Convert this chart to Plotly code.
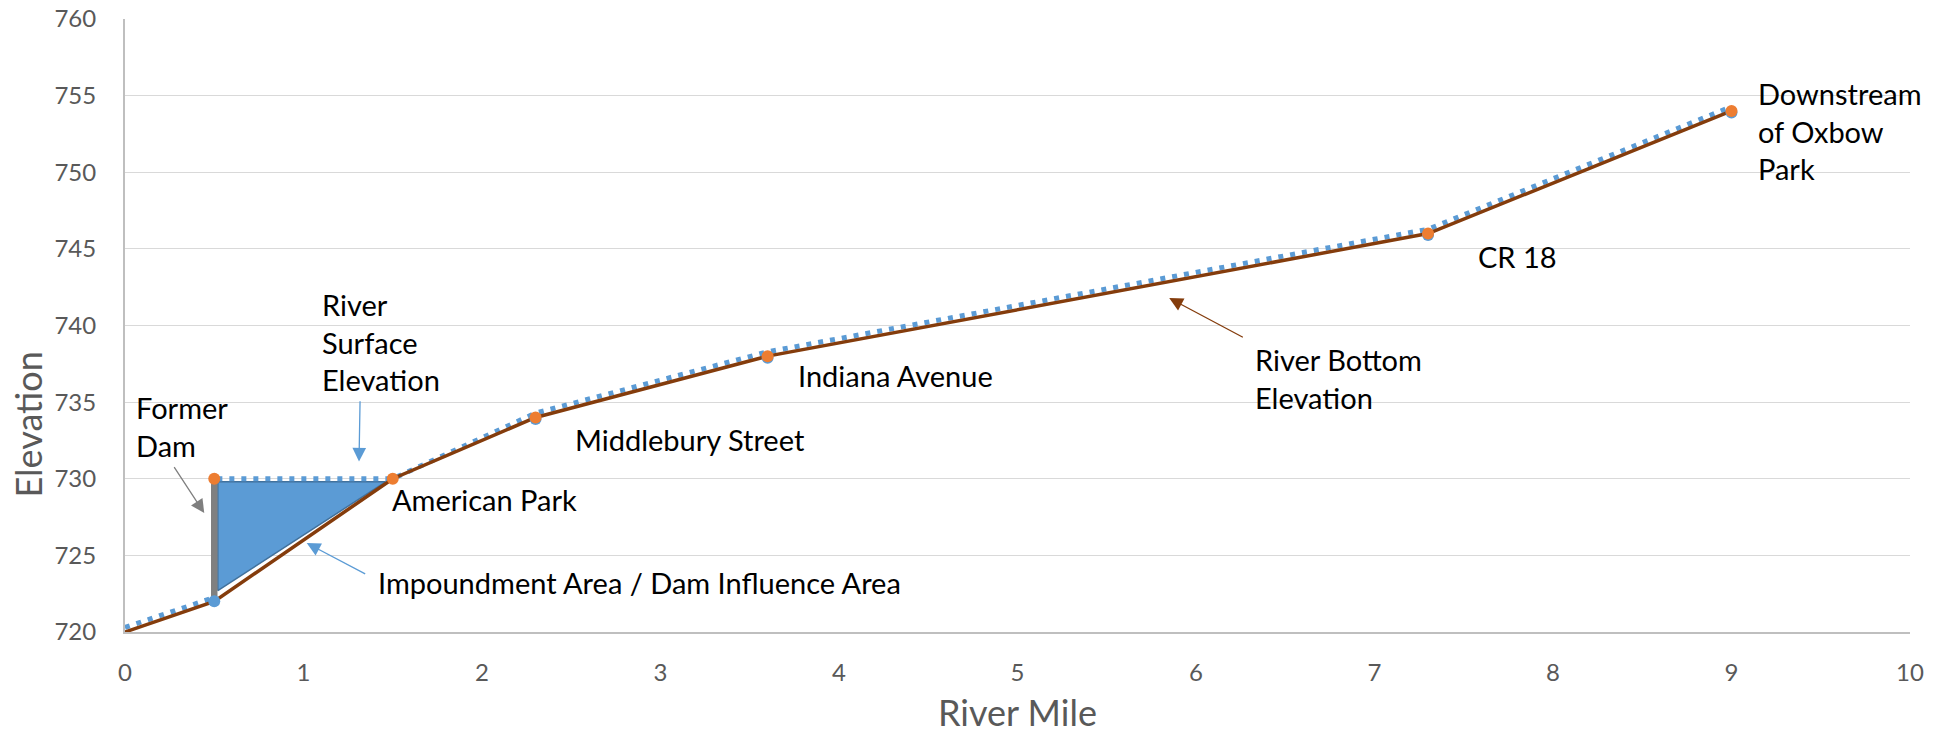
import plotly.graph_objects as go

# ---- data ----
bottom_mile = [0, 0.5, 1.5, 2.3, 3.6, 7.3, 9]
bottom_elev = [720, 722, 730, 734, 738, 746, 754]

surface_mile = [0, 0.5, 0.5, 1.5, 2.3, 3.6, 7.3, 9]
surface_elev = [720.3, 722.25, 730, 730, 734.28, 738.28, 746.28, 754.28]

blue_pt_mile = [0.5, 2.3, 3.6, 7.3, 9]
blue_pt_elev = [722, 733.9, 737.9, 745.9, 753.9]

orange_pt_mile = [0.5, 1.5, 2.3, 3.6, 7.3, 9]
orange_pt_elev = [730, 730, 734, 738, 746, 754]

impound_mile = [0.52, 1.46, 0.52, 0.52]
impound_elev = [729.8, 729.8, 722.7, 729.8]

dam_mile = [0.5, 0.5]
dam_elev = [722, 730]

x_ticks = [0, 1, 2, 3, 4, 5, 6, 7, 8, 9, 10]
y_ticks = [720, 725, 730, 735, 740, 745, 750, 755, 760]

# labels: (text, mile, elevation)
labels = [
    ("Former<br>Dam", 0.05, 733.4),
    ("River<br>Surface<br>Elevation", 1.092, 738.9),
    ("Impoundment Area / Dam Influence Area", 1.406, 723.25),
    ("American Park", 1.485, 728.65),
    ("Middlebury Street", 2.51, 732.56),
    ("Indiana Avenue", 3.76, 736.72),
    ("CR 18", 7.57, 744.53),
    ("Downstream<br>of Oxbow<br>Park", 9.135, 752.66),
    ("River Bottom<br>Elevation", 6.32, 736.54),
]

# arrows: (head mile, head elev, tail mile, tail elev, color)
arrows = [
    (0.444, 727.76, 0.27, 730.85, "#7F7F7F"),
    (1.311, 731.13, 1.317, 735.15, "#5B9BD5"),
    (1.018, 725.8, 1.354, 723.74, "#5B9BD5"),
    (5.85, 741.79, 6.271, 739.18, "#843C0C"),
]

FONT = "Lato"
BLUE = "#5B9BD5"
ORANGE = "#ED7D31"
BROWN = "#843C0C"

fig = go.Figure()

fig.add_trace(go.Scatter(
    x=impound_mile, y=impound_elev, mode="lines", fill="toself",
    fillcolor=BLUE, line=dict(color="#41719C", width=1.5),
    hoverinfo="skip", showlegend=False))

fig.add_trace(go.Scatter(
    x=surface_mile, y=surface_elev, mode="lines",
    line=dict(color=BLUE, width=5, dash="5px,7px"),
    showlegend=False))

fig.add_trace(go.Scatter(
    x=dam_mile, y=dam_elev, mode="lines",
    line=dict(color="#808080", width=6.5), showlegend=False))

fig.add_trace(go.Scatter(
    x=bottom_mile, y=bottom_elev, mode="lines",
    line=dict(color=BROWN, width=3.5), showlegend=False))

fig.add_trace(go.Scatter(
    x=blue_pt_mile, y=blue_pt_elev, mode="markers",
    marker=dict(color=BLUE, size=12), showlegend=False))

fig.add_trace(go.Scatter(
    x=orange_pt_mile, y=orange_pt_elev, mode="markers",
    marker=dict(color=ORANGE, size=12), showlegend=False))

annotations = []
for text, mx, ey in labels:
    annotations.append(dict(
        text=text, x=mx, y=ey, xref="x", yref="y", showarrow=False,
        xanchor="left", yanchor="middle", align="left",
        font=dict(family=FONT, size=29, color="#000000")))

for hx, hy, tx, ty, col in arrows:
    annotations.append(dict(
        text="", x=hx, y=hy, ax=tx, ay=ty, xref="x", yref="y",
        axref="x", ayref="y", showarrow=True, arrowhead=2,
        arrowsize=2.1, arrowwidth=1.3, arrowcolor=col, standoff=0))

annotations.append(dict(
    text="River Mile", x=0.5, y=-0.13, xref="paper", yref="paper",
    showarrow=False, xanchor="center", yanchor="middle",
    font=dict(family=FONT, size=36, color="#595959")))
annotations.append(dict(
    text="Elevation", x=-0.0546, y=0.3377, xref="paper", yref="paper",
    showarrow=False, xanchor="center", yanchor="middle", textangle=-90,
    font=dict(family=FONT, size=36, color="#595959")))

fig.update_layout(
    width=1948, height=734,
    margin=dict(l=125, r=38, t=19, b=102, autoexpand=False),
    paper_bgcolor="white", plot_bgcolor="white",
    annotations=annotations,
    font=dict(family=FONT),
)

fig.update_xaxes(
    range=[0, 10], tickvals=x_ticks, showgrid=False, zeroline=False,
    showline=True, linecolor="#BFBFBF", linewidth=2,
    ticks="", ticklabelstandoff=18, automargin=False,
    tickfont=dict(family=FONT, size=24, color="#595959"))

fig.update_yaxes(
    range=[720, 760], tickvals=y_ticks, showgrid=True, gridcolor="#D9D9D9",
    gridwidth=1.3, zeroline=False,
    showline=True, linecolor="#BFBFBF", linewidth=2,
    ticks="", ticklabelstandoff=22, automargin=False,
    tickfont=dict(family=FONT, size=24, color="#595959"))

fig.write_html(
    "out.html",
    config={"displayModeBar": False},
    post_script="document.body.style.margin='0';document.body.style.overflow='hidden';",
)
